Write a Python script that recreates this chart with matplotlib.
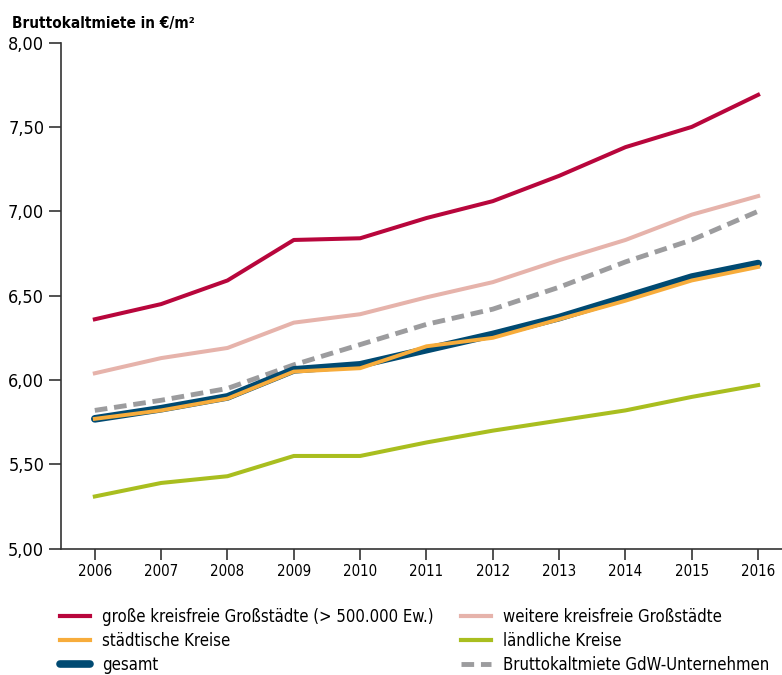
import matplotlib
matplotlib.use("Agg")
import matplotlib.pyplot as plt
from matplotlib.lines import Line2D

plt.rcParams['font.family'] = ['DejaVu Sans']
plt.rcParams['font.stretch'] = 'condensed'

# Bruttokaltmiete in €/m² nach Kreistyp, 2006-2016
jahre = [2006, 2007, 2008, 2009, 2010, 2011, 2012, 2013, 2014, 2015, 2016]
grosse_kreisfreie = [6.36, 6.45, 6.59, 6.83, 6.84, 6.96, 7.06, 7.21, 7.38, 7.50, 7.69]
weitere_kreisfreie = [6.04, 6.13, 6.19, 6.34, 6.39, 6.49, 6.58, 6.71, 6.83, 6.98, 7.09]
staedtische_kreise = [5.77, 5.82, 5.89, 6.05, 6.07, 6.20, 6.25, 6.36, 6.47, 6.59, 6.67]
laendliche_kreise = [5.31, 5.39, 5.43, 5.55, 5.55, 5.63, 5.70, 5.76, 5.82, 5.90, 5.97]
gesamt = [5.77, 5.83, 5.90, 6.06, 6.09, 6.18, 6.27, 6.37, 6.49, 6.61, 6.69]
gdw = [5.82, 5.88, 5.95, 6.09, 6.21, 6.33, 6.42, 6.55, 6.70, 6.83, 7.00]

y_ticks = [5.0, 5.5, 6.0, 6.5, 7.0, 7.5, 8.0]

c_rot = '#B8063C'
c_rosa = '#E6B3AB'
c_orange = '#F7AC3B'
c_gruen = '#A9BE1F'
c_blau = '#004A72'
c_grau = '#9C9C9E'
strich = (2.6, 1.4)

fig = plt.figure(figsize=(7.82, 6.75), dpi=100)
ax = fig.add_axes([0.078, 0.187, 0.922, 0.75])

ax.plot(jahre, grosse_kreisfreie, color=c_rot, lw=2.9)
ax.plot(jahre, weitere_kreisfreie, color=c_rosa, lw=2.9)
ax.plot(jahre, gdw, color=c_grau, lw=3.5, dashes=strich)
ax.plot(jahre, laendliche_kreise, color=c_gruen, lw=2.9)
ax.plot(jahre, gesamt, color=c_blau, lw=5.5, solid_capstyle='round', solid_joinstyle='round')
ax.plot(jahre, staedtische_kreise, color=c_orange, lw=2.8)

ax.set_xlim(2005.49, 2016.36)
ax.set_ylim(5.0, 8.0)
ax.set_xticks(jahre)
ax.set_xticklabels([str(j) for j in jahre], fontsize=10.8)
ax.set_yticks(y_ticks)
ax.set_yticklabels([f'{v:.2f}'.replace('.', ',') for v in y_ticks], fontsize=13)

for s in ['top', 'right']:
    ax.spines[s].set_visible(False)
for s in ['left', 'bottom']:
    ax.spines[s].set_color('#333333')
    ax.spines[s].set_linewidth(1.2)
ax.tick_params(axis='y', length=9, width=1.2, color='#333333', pad=3)
ax.tick_params(axis='x', length=8, width=1.2, color='#333333', pad=3)

fig.text(0.015, 0.977, 'Bruttokaltmiete in €/m²', fontsize=11, fontweight='bold',
         va='top', ha='left')

handles_links = [
    Line2D([], [], color=c_rot, lw=3),
    Line2D([], [], color=c_orange, lw=3),
    Line2D([], [], color=c_blau, lw=5.5, solid_capstyle='round'),
]
labels_links = [
    'große kreisfreie Großstädte (> 500.000 Ew.)',
    'städtische Kreise',
    'gesamt',
]
handles_rechts = [
    Line2D([], [], color=c_rosa, lw=3),
    Line2D([], [], color=c_gruen, lw=3),
    Line2D([], [], color=c_grau, lw=3.5, dashes=strich),
]
labels_rechts = [
    'weitere kreisfreie Großstädte',
    'ländliche Kreise',
    'Bruttokaltmiete GdW-Unternehmen',
]
leg_kw = dict(loc='upper left', frameon=False, fontsize=12, handlelength=1.8,
              handletextpad=0.7, labelspacing=0.36, borderaxespad=0, borderpad=0)
fig.legend(handles_links, labels_links, bbox_to_anchor=(0.077, 0.099), **leg_kw)
fig.legend(handles_rechts, labels_rechts, bbox_to_anchor=(0.59, 0.099), **leg_kw)

fig.savefig('out.png', dpi=100)
